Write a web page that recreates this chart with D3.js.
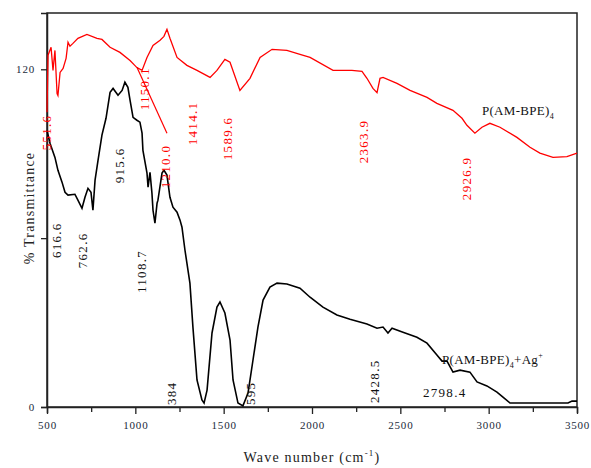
<!DOCTYPE html>
<html>
<head>
<meta charset="utf-8">
<script src="https://cdn.jsdelivr.net/npm/d3@7"></script>
<style>
  body { margin: 0; background: #fff; }
  text { font-family: "Liberation Serif", "DejaVu Serif", serif; }
</style>
</head>
<body>
<div id="chart"></div>
<script>
// P(AM-BPE)4 spectrum (red), [wavenumber, %T]
var redWave = [500,506,523,534,545,557,562,574,591,608,619,630,647,675,726,783,811,857,913,970,1009,1038,1066,1100,1140,1162,1179,1196,1236,1292,1349,1423,1462,1507,1536,1592,1649,1706,1774,1858,1932,1989,2119,2226,2283,2311,2345,2368,2385,2402,2481,2555,2651,2707,2798,2849,2877,2922,2962,3007,3064,3160,3234,3290,3364,3443,3500];
var redT = [104.7,125.0,127.8,119.6,126.7,111.4,110.7,118.9,120.3,123.9,129.6,128.2,129.2,131.0,132.4,131.0,130.6,127.8,126.0,123.1,120.6,119.6,124.2,128.5,130.3,131.7,134.2,131.0,124.2,121.4,119.6,117.1,119.6,123.5,122.5,112.5,116.8,124.2,127.1,126.7,125.3,124.2,119.6,119.6,119.3,116.8,113.2,111.7,116.8,117.1,115.0,112.5,110.0,107.9,105.4,102.6,100.1,97.3,99.4,100.8,99.4,95.8,92.3,90.2,88.7,89.0,90.2];
// stray leader line under 1150.1
var redLeaderWave = [1009, 1179];
var redLeaderT = [120.7, 97.3];

// P(AM-BPE)4 + Ag+ spectrum (black)
var blackWave = [500,517,545,562,585,602,619,658,675,698,715,732,749,760,772,789,811,834,857,874,902,925,941,958,970,987,1009,1026,1038,1043,1066,1072,1083,1094,1100,1111,1123,1128,1151,1162,1179,1196,1213,1236,1253,1264,1281,1309,1326,1349,1377,1389,1406,1434,1462,1479,1507,1536,1553,1581,1609,1638,1666,1694,1723,1762,1802,1858,1932,1989,2062,2141,2215,2311,2368,2402,2430,2453,2515,2594,2651,2707,2736,2764,2798,2838,2894,2934,2990,3047,3081,3121,3194,3449,3472,3500];
var blackT = [98.3,93.7,88.7,84.1,79.9,76.3,75.3,75.6,73.5,70.6,74.5,77.7,76.3,69.9,80.6,87.7,96.6,102.6,111.8,113.2,110.8,112.5,115.4,113.6,109.0,102.9,101.9,101.2,97.3,91.2,83.1,78.1,83.4,76.0,69.9,65.3,72.4,73.5,83.1,84.1,82.4,74.5,71.0,69.2,66.4,63.9,55.7,44.0,28.4,9.6,2.5,1.4,6.0,26.3,35.5,37.3,33.4,23.8,9.6,1.4,0.4,5.0,16.7,28.4,38.0,42.6,44.0,43.7,42.2,39.0,35.5,32.7,31.2,29.5,28.0,28.4,26.3,28.0,26.6,24.8,22.7,18.5,16.3,16.3,12.4,13.1,12.4,8.9,7.5,5.3,3.5,1.4,1.4,1.4,2.1,2.1];

// vertical peak labels: text, anchor wavenumber, anchor %T
var redPeakText = ["551.6","1150.1","1210.0","1414.1","1589.6","2363.9","2926.9"];
var redPeakWave = [494,1049,1168,1326,1519,2289,2872];
var redPeakT = [91.2,105.4,77.7,93.0,87.7,86.6,73.5];

var blackPeakText = ["616.6","762.6","915.6","1108.7","384","595","2428.5"];
var blackPeakWave = [551,698,908,1032,1202,1649,2356];
var blackPeakT = [52.9,49.3,79.5,40.5,0.7,0.7,1.4];

var xTicks = [500,750,1000,1250,1500,1750,2000,2250,2500,2750,3000,3250,3500];
var yTicks = [0,60,120];
var yTickLabels = ["0","","120"];

var width = 591, height = 468;
var margin = { top: 13, right: 14, bottom: 61, left: 47 };
var w = width - margin.left - margin.right,
    h = height - margin.top - margin.bottom;

var svg = d3.select("#chart").append("svg")
    .attr("width", width)
    .attr("height", height);

var g = svg.append("g")
    .attr("transform", "translate(" + margin.left + "," + margin.top + ")");

var x = d3.scaleLinear().domain([500, 3500]).range([0, w]);
var y = d3.scaleLinear().domain([0, 140]).range([h, 0]);

// frame
g.append("rect")
    .attr("width", w).attr("height", h)
    .attr("fill", "none")
    .attr("stroke", "#222")
    .attr("stroke-width", 1.5);

// x axis
var xAxis = g.append("g")
    .attr("transform", "translate(0," + h + ")")
    .call(d3.axisBottom(x).tickValues(xTicks).tickSize(6).tickPadding(8)
        .tickFormat(function(d) { return d % 500 === 0 ? d : ""; }));
xAxis.select(".domain").attr("stroke", "#222").attr("stroke-width", 1.5);
xAxis.selectAll(".tick line").attr("stroke", "#222").attr("stroke-width", 1.3)
    .attr("y2", function(d) { return d % 500 === 0 ? 7 : 5; });
xAxis.selectAll(".tick text")
    .attr("font-size", 11).attr("letter-spacing", 0.8)
    .attr("fill", "#1a2a3a")
    .style("font-family", "'Liberation Serif', serif");

// y axis
var yAxis = g.append("g")
    .call(d3.axisLeft(y).tickValues(yTicks).tickSize(6).tickPadding(6)
        .tickFormat(function(d, i) { return yTickLabels[i]; }));
yAxis.select(".domain").attr("stroke", "#222").attr("stroke-width", 1.5);
yAxis.selectAll(".tick line").attr("stroke", "#222").attr("stroke-width", 1.3);
yAxis.selectAll(".tick text")
    .attr("font-size", 11).attr("letter-spacing", 0.8)
    .attr("fill", "#1a2a3a")
    .style("font-family", "'Liberation Serif', serif");

// axis titles
svg.append("text")
    .attr("x", margin.left + w / 2)
    .attr("y", 462)
    .attr("text-anchor", "middle")
    .attr("font-size", 14)
    .attr("letter-spacing", 1.2)
    .attr("fill", "#222")
    .text("Wave number (cm")
    .append("tspan").attr("font-size", 9).attr("dy", -6).text("-1")
    .select(function() { return this.parentNode; })
    .append("tspan").attr("dy", 6).text(")");

svg.append("text")
    .attr("transform", "translate(34," + 208 + ") rotate(-90)")
    .attr("text-anchor", "middle")
    .attr("font-size", 14)
    .attr("letter-spacing", 1.2)
    .attr("fill", "#222")
    .text("% Transmittance");

var line = d3.line()
    .x(function(d) { return x(d[0]); })
    .y(function(d) { return y(d[1]); });

var redData = d3.zip(redWave, redT);
var blackData = d3.zip(blackWave, blackT);

g.append("path")
    .datum(d3.zip(redLeaderWave, redLeaderT))
    .attr("d", line)
    .attr("fill", "none")
    .attr("stroke", "#ff0000")
    .attr("stroke-width", 1.2);

g.append("path")
    .datum(redData)
    .attr("d", line)
    .attr("fill", "none")
    .attr("stroke", "#ff0000")
    .attr("stroke-width", 1.3);

g.append("path")
    .datum(blackData)
    .attr("d", line)
    .attr("fill", "none")
    .attr("stroke", "#000")
    .attr("stroke-width", 1.6);

// peak labels (rotated)
function peakLabels(texts, waves, vals, color) {
    g.selectAll(null)
        .data(d3.zip(texts, waves, vals))
        .enter().append("text")
        .attr("transform", function(d) {
            return "translate(" + x(d[1]) + "," + y(d[2]) + ") rotate(-90)";
        })
        .attr("dy", "0.35em")
        .attr("font-size", 13)
        .attr("letter-spacing", 1.3)
        .attr("fill", color)
        .text(function(d) { return d[0]; });
}
peakLabels(redPeakText, redPeakWave, redPeakT, "#ff0000");
peakLabels(blackPeakText, blackPeakWave, blackPeakT, "#111");

// horizontal labels
g.append("text")
    .attr("x", x(2628)).attr("y", y(3.5))
    .attr("font-size", 13).attr("letter-spacing", 1.3)
    .attr("fill", "#111")
    .text("2798.4");

var lab1 = g.append("text")
    .attr("x", x(2962)).attr("y", y(103.7))
    .attr("font-size", 13).attr("letter-spacing", 0.3)
    .attr("fill", "#111")
    .text("P(AM-BPE)");
lab1.append("tspan").attr("font-size", 8).attr("dy", 4).text("4");

var lab2 = g.append("text")
    .attr("x", x(2736)).attr("y", y(15.3))
    .attr("font-size", 13).attr("letter-spacing", 0.3)
    .attr("fill", "#111")
    .text("P(AM-BPE)");
lab2.append("tspan").attr("font-size", 8).attr("dy", 4).text("4");
lab2.append("tspan").attr("dy", -4).text("+Ag");
lab2.append("tspan").attr("font-size", 8).attr("dy", -6).text("+");
</script>
</body>
</html>
